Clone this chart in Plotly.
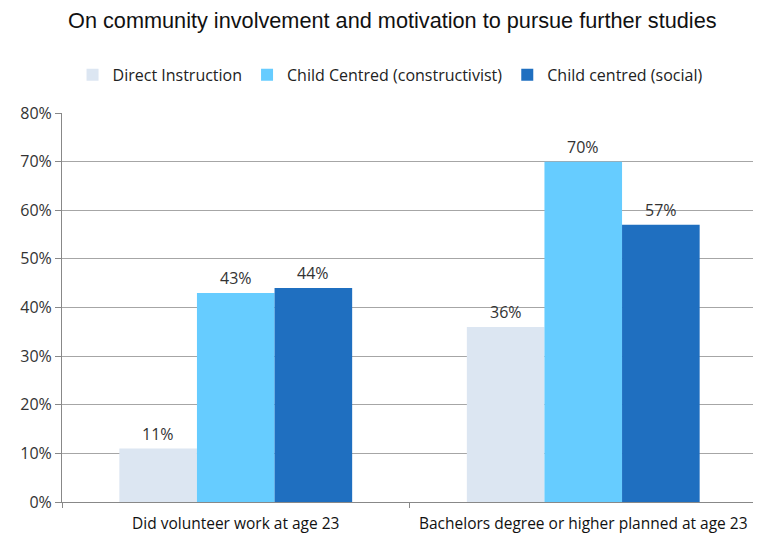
import plotly.graph_objects as go

categories = ["Did volunteer work at age 23", "Bachelors degree or higher planned at age 23"]
series_names = ["Direct Instruction", "Child Centred (constructivist)", "Child centred (social)"]
direct = [0.11, 0.36]
constructivist = [0.43, 0.70]
social = [0.44, 0.57]
colors = ["#DCE6F2", "#66CCFF", "#1F6FC0"]

BARGAP = 0.33
FONT = "Open Sans"

fig = go.Figure()
n = len(series_names)
bw = (1 - BARGAP) / n
for k, (name, vals, col) in enumerate(zip(series_names, [direct, constructivist, social], colors)):
    fig.add_trace(go.Bar(
        x=categories, y=vals, name=name, marker_color=col, marker_line_width=0,
    ))
    off = (k - (n - 1) / 2) * bw
    for i, v in enumerate(vals):
        fig.add_annotation(x=i + off, y=v, xref="x", yref="y", text=f"{v:.0%}",
                           showarrow=False, yanchor="middle", yshift=15,
                           font=dict(family=FONT, size=16, color="#333333"))

fig.update_layout(
    width=761, height=538,
    margin=dict(l=54, r=12, t=105, b=44, autoexpand=False),
    paper_bgcolor="white", plot_bgcolor="white",
    barmode="group", bargap=BARGAP, bargroupgap=0,
    title=dict(text="On community involvement and motivation to pursue further studies",
               x=0.505, xanchor="center", y=1 - 12/538, yanchor="middle",
               font=dict(family="Liberation Sans", size=21.7, color="#111111")),
    legend=dict(orientation="h", x=0.472, xanchor="center", y=1.098, yanchor="middle",
                font=dict(family=FONT, size=16, color="#222222"), itemwidth=30,
                bgcolor="rgba(0,0,0,0)", traceorder="normal"),
    font=dict(family=FONT, size=16, color="#333333"),
)
fig.update_yaxes(range=[0, 0.8], dtick=0.1, tickformat=".0%", showgrid=True,
                 gridcolor="#A6A6A6", gridwidth=1, showline=True, linecolor="#888888",
                 ticks="outside", ticklen=6, tickcolor="#888888", zeroline=False,
                 automargin=False,
                 tickfont=dict(family=FONT, size=16, color="#333333"))
fig.update_xaxes(showline=True, linecolor="#888888", ticks="outside", tickson="boundaries",
                 ticklen=5, tickcolor="#888888", automargin=False, tickangle=0,
                 ticklabelstandoff=7,
                 tickfont=dict(family=FONT, size=15.5, color="#111111"))

fig.write_html("out.html")
